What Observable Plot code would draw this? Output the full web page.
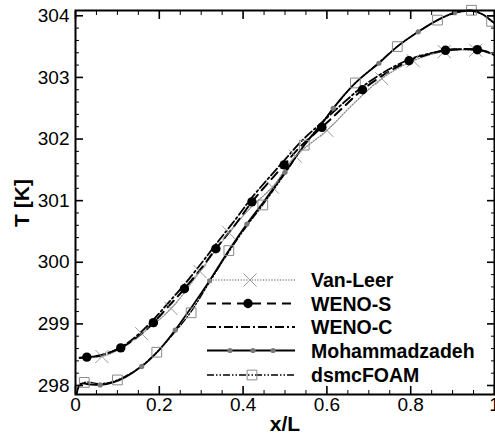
<!DOCTYPE html>
<html><head><meta charset="utf-8">
<script src="https://cdn.jsdelivr.net/npm/d3@7"></script>
<script src="https://cdn.jsdelivr.net/npm/@observablehq/plot@0.6"></script>
<style>
html,body{margin:0;padding:0;background:#fff;}
#wrap{position:relative;width:495px;height:439px;overflow:hidden;}
#wrap svg{position:absolute;left:0;top:0;}
</style></head><body><div id="wrap"></div>
<script>
// ---- data ----
const seriesNames = ["Van-Leer", "WENO-S", "WENO-C", "Mohammadzadeh", "dsmcFOAM"];

const vanLeerX = [0.01,0.063,0.108,0.158,0.228,0.297,0.366,0.42,0.47,0.525,0.6,0.66,0.731,0.806,0.88,0.95,0.98,1.0];
const vanLeerY = [298.45,298.47,298.60,298.84,299.25,299.85,300.48,300.90,301.22,301.72,302.14,302.55,302.98,303.27,303.42,303.44,303.41,303.36];
const vanLeerMarkX = [0.063,0.158,0.228,0.297,0.366,0.47,0.525,0.6,0.731,0.806,0.88,0.955];
const vanLeerMarkY = [298.47,298.84,299.25,299.85,300.48,301.22,301.72,302.14,302.98,303.27,303.42,303.44];

const wenoSX = [0.01,0.027,0.06,0.108,0.15,0.186,0.22,0.26,0.30,0.335,0.38,0.421,0.46,0.498,0.54,0.588,0.64,0.685,0.74,0.796,0.84,0.883,0.92,0.959,0.98,1.0];
const wenoSY = [298.45,298.46,298.49,298.61,298.80,299.02,299.27,299.57,299.90,300.22,300.60,300.98,301.29,301.58,301.90,302.19,302.52,302.80,303.06,303.27,303.37,303.44,303.46,303.45,303.42,303.36];
const wenoSMarkX = [0.027,0.108,0.186,0.26,0.335,0.421,0.498,0.588,0.685,0.796,0.883,0.959];
const wenoSMarkY = [298.46,298.61,299.02,299.57,300.22,300.98,301.58,302.19,302.80,303.27,303.44,303.45];

const wenoCX = [0.01,0.06,0.108,0.15,0.186,0.22,0.26,0.30,0.335,0.38,0.421,0.46,0.498,0.54,0.588,0.64,0.685,0.74,0.796,0.84,0.883,0.92,0.959,0.98,1.0];
const wenoCY = [298.45,298.49,298.62,298.83,299.07,299.33,299.64,299.98,300.29,300.68,301.05,301.36,301.65,301.97,302.27,302.59,302.85,303.10,303.29,303.38,303.44,303.46,303.45,303.42,303.36];

const mohX = [0.003,0.012,0.03,0.059,0.09,0.12,0.158,0.20,0.238,0.28,0.32,0.36,0.409,0.45,0.50,0.546,0.588,0.615,0.668,0.724,0.768,0.818,0.864,0.905,0.945,0.97,1.0];
const mohY = [297.87,298.03,298.02,298.01,298.05,298.14,298.31,298.58,298.90,299.30,299.70,300.13,300.62,300.99,301.46,301.90,302.25,302.50,302.91,303.23,303.50,303.74,303.93,304.05,304.08,304.03,303.88];
const mohMarkX = [0.059,0.158,0.238,0.320,0.409,0.5,0.615,0.724,0.818,0.905];
const mohMarkY = [298.01,298.31,298.90,299.70,300.62,301.46,302.50,303.23,303.74,304.05];

const dsmcX = [0.005,0.021,0.06,0.100,0.15,0.194,0.235,0.276,0.32,0.366,0.41,0.447,0.50,0.546,0.61,0.668,0.72,0.768,0.82,0.864,0.905,0.945,0.97,0.993,1.0];
const dsmcY = [297.95,298.05,298.03,298.09,298.28,298.54,298.85,299.20,299.68,300.17,300.60,300.93,301.44,301.90,302.45,302.91,303.22,303.50,303.75,303.93,304.04,304.09,304.03,303.91,303.88];
const dsmcMarkX = [0.021,0.100,0.194,0.276,0.366,0.447,0.546,0.668,0.768,0.864,0.945,0.993];
const dsmcMarkY = [298.05,298.09,298.54,299.18,300.19,300.93,301.90,302.91,303.50,303.93,304.09,303.91];

const xMajorTicks = [0,0.2,0.4,0.6,0.8,1];
const xMinorTicks = [0.05,0.1,0.15,0.25,0.3,0.35,0.45,0.5,0.55,0.65,0.7,0.75,0.85,0.9,0.95];
const yMajorTicks = [298,299,300,301,302,303,304];
const yMinorTicks = [298.2,298.4,298.6,298.8,299.2,299.4,299.6,299.8,300.2,300.4,300.6,300.8,301.2,301.4,301.6,301.8,302.2,302.4,302.6,302.8,303.2,303.4,303.6,303.8];
const xTitle = "x/L";
const yTitle = "T [K]";

// ---- build ----
const rows = (xs, ys) => xs.map((x, i) => ({x, y: ys[i]}));
const font = "'Liberation Sans', Arial, Helvetica, sans-serif";

const st = {
  vl: {stroke: "#8c8c8c", strokeWidth: 1.3, strokeDasharray: "1.2,1.6"},
  ws: {stroke: "#000", strokeWidth: 2, strokeDasharray: "9,6"},
  wc: {stroke: "#000", strokeWidth: 1.8, strokeDasharray: "9,3,2,3"},
  mo: {stroke: "#000", strokeWidth: 1.8},
  ds: {stroke: "#000", strokeWidth: 1.3, strokeDasharray: "7,2,1.5,2,1.5,2"}
};

const fmt = d3.format("~g");
const plot = Plot.plot({
  width: 495, height: 439,
  marginLeft: 75, marginRight: 1, marginTop: 10, marginBottom: 45,
  x: {domain: [0, 1]},
  y: {domain: [297.854, 304.086]},
  style: {fontFamily: font, fontSize: "19px", color: "#000", background: "transparent", overflow: "visible"},
  marks: [
    Plot.line(rows(vanLeerX, vanLeerY), {x: "x", y: "y", curve: "catmull-rom", ...st.vl}),
    Plot.line(rows(wenoCX, wenoCY), {x: "x", y: "y", curve: "catmull-rom", ...st.wc}),
    Plot.line(rows(wenoSX, wenoSY), {x: "x", y: "y", curve: "catmull-rom", ...st.ws}),
    Plot.line(rows(dsmcX, dsmcY), {x: "x", y: "y", curve: "catmull-rom", ...st.ds}),
    Plot.line(rows(mohX, mohY), {x: "x", y: "y", curve: "catmull-rom", ...st.mo}),
    Plot.dot(rows(vanLeerMarkX, vanLeerMarkY), {x: "x", y: "y", symbol: "times", r: 6, stroke: "#9a9a9a", strokeWidth: 1}),
    Plot.dot(rows(dsmcMarkX, dsmcMarkY), {x: "x", y: "y", symbol: "square", r: 5.5, fill: "none", stroke: "#8a8a8a", strokeWidth: 1}),
    Plot.dot(rows(mohMarkX, mohMarkY), {x: "x", y: "y", r: 2.6, fill: "#7a7a7a", stroke: "none"}),
    Plot.dot(rows(wenoSMarkX, wenoSMarkY), {x: "x", y: "y", symbol: "circle", r: 4.7, fill: "#000", stroke: "none"}),
    Plot.frame({stroke: "#000", strokeWidth: 2}),
    Plot.axisX(xMajorTicks, {anchor: "bottom", tickSize: -8, fill: "none", strokeWidth: 1.6, label: null}),
    Plot.axisX(xMinorTicks, {anchor: "bottom", tickSize: -4, fill: "none", strokeWidth: 1, label: null}),
    Plot.axisX(xMajorTicks, {anchor: "top", tickSize: -8, fill: "none", strokeWidth: 1.6, label: null}),
    Plot.axisX(xMinorTicks, {anchor: "top", tickSize: -4, fill: "none", strokeWidth: 1, label: null}),
    Plot.axisY(yMajorTicks, {anchor: "left", tickSize: -8, fill: "none", strokeWidth: 1.6, label: null}),
    Plot.axisY(yMinorTicks, {anchor: "left", tickSize: -4, fill: "none", strokeWidth: 1, label: null}),
    Plot.axisY(yMajorTicks, {anchor: "right", tickSize: -8, fill: "none", strokeWidth: 1.6, label: null}),
    Plot.axisY(yMinorTicks, {anchor: "right", tickSize: -4, fill: "none", strokeWidth: 1, label: null}),
    Plot.axisX(xMajorTicks, {anchor: "bottom", tickSize: 0, tickPadding: 3, tickFormat: fmt, label: null, fontSize: 19, fill: "#000"}),
    Plot.axisY(yMajorTicks, {anchor: "left", tickSize: 0, tickPadding: 6, tickFormat: fmt, label: null, fontSize: 19, fill: "#000"})
  ]
});
const wrap = document.getElementById("wrap");
wrap.appendChild(plot);

// ---- legend and axis titles (overlay) ----
const ov = d3.select(wrap).append("svg").attr("width", 495).attr("height", 439)
  .style("font-family", font).style("pointer-events", "none");
const legendKeys = ["vl", "ws", "wc", "mo", "ds"];
const legY = [280, 303.5, 327, 350.5, 375];
const x0 = 207, x1 = 295, tx = 311;
const sym = (type, r) => d3.symbol(type, Math.PI * r * r)();
legendKeys.forEach((k, i) => {
  const y = legY[i];
  const s = st[k];
  ov.append("line").attr("x1", x0).attr("x2", x1).attr("y1", y).attr("y2", y)
    .attr("stroke", s.stroke).attr("stroke-width", s.strokeWidth)
    .attr("stroke-dasharray", s.strokeDasharray || null);
  if (k === "vl") ov.append("path").attr("d", sym(d3.symbolTimes, 6)).attr("transform", `translate(250,${y})`).attr("fill", "none").attr("stroke", "#9a9a9a");
  if (k === "ws") ov.append("path").attr("d", sym(d3.symbolCircle, 4.7)).attr("transform", `translate(248,${y})`).attr("fill", "#000");
  if (k === "mo") [230, 253, 273].forEach(cx => ov.append("circle").attr("cx", cx).attr("cy", y).attr("r", 2.6).attr("fill", "#7a7a7a"));
  if (k === "ds") ov.append("path").attr("d", sym(d3.symbolSquare, 5.5)).attr("transform", `translate(252,${y})`).attr("fill", "none").attr("stroke", "#8a8a8a");
  ov.append("text").attr("x", tx).attr("y", y + 7).attr("font-size", 19.5).attr("font-weight", "bold").text(seriesNames[i]);
});
ov.append("text").attr("x", 285).attr("y", 431).attr("text-anchor", "middle").attr("font-size", 21).attr("font-weight", "bold").text(xTitle);
ov.append("text").attr("transform", "translate(29,203) rotate(-90)").attr("text-anchor", "middle").attr("font-size", 21).attr("font-weight", "bold").text(yTitle);
</script>
</body></html>
